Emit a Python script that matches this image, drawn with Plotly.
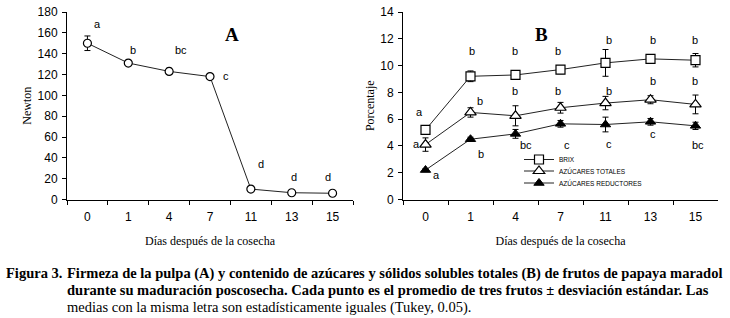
import plotly.graph_objects as go

W, H = 730, 318

dias = ["0", "1", "4", "7", "11", "13", "15"]

# Panel A: firmeza (Newton)
firmeza = [150, 131, 123, 118, 10, 6.5, 6]
firmeza_sd = [7, 2, 3, 2, 1, 1, 1]
letras_a = ["a", "b", "bc", "c", "d", "d", "d"]

# Panel B: porcentaje
brix = [5.2, 9.2, 9.3, 9.7, 10.2, 10.5, 10.4]
brix_sd = [0.2, 0.4, 0.2, 0.3, 1.0, 0.1, 0.5]
totales = [4.1, 6.5, 6.25, 6.85, 7.2, 7.45, 7.1]
totales_sd = [0.5, 0.35, 0.75, 0.4, 0.5, 0.3, 0.7]
reductores = [2.2, 4.5, 4.9, 5.65, 5.6, 5.8, 5.5]
reductores_sd = [0.1, 0.15, 0.33, 0.25, 0.55, 0.25, 0.27]
letras_brix = ["a", "b", "b", "b", "b", "b", "b"]
letras_tot = ["a", "b", "b", "b", "b", "b", "b"]
letras_red = ["a", "b", "bc", "c", "c", "c", "bc"]

SANS = "Liberation Sans, Arial, sans-serif"
SERIF = "Liberation Serif, Times New Roman, serif"
LINE = "#222222"
BLACK = "#000000"

def px_x(p):
    return p / W

def px_y(p):
    return 1 - p / H

fig = go.Figure()

def err(sd):
    return dict(type="data", array=sd, visible=True, color=BLACK, thickness=1, width=3)

fig.add_trace(go.Scatter(
    x=dias, y=firmeza, error_y=err(firmeza_sd), mode="lines+markers",
    line=dict(color=LINE, width=1),
    marker=dict(symbol="circle", size=8, color="white", line=dict(color=BLACK, width=1.2)),
    xaxis="x", yaxis="y", showlegend=False))

fig.add_trace(go.Scatter(
    x=dias, y=brix, error_y=err(brix_sd), mode="lines+markers", name="BRIX",
    line=dict(color=LINE, width=1),
    marker=dict(symbol="square", size=9, color="white", line=dict(color=BLACK, width=1.2)),
    xaxis="x2", yaxis="y2", legend="legend"))
fig.add_trace(go.Scatter(
    x=dias, y=totales, error_y=err(totales_sd), mode="lines+markers", name="AZÚCARES TOTALES",
    line=dict(color=LINE, width=1),
    marker=dict(symbol="triangle-up", size=10, color="white", line=dict(color=BLACK, width=1.2)),
    xaxis="x2", yaxis="y2", legend="legend2"))
fig.add_trace(go.Scatter(
    x=dias, y=reductores, error_y=err(reductores_sd), mode="lines+markers", name="AZÚCARES REDUCTORES",
    line=dict(color=LINE, width=1),
    marker=dict(symbol="triangle-up", size=9, color=BLACK, line=dict(color=BLACK, width=1)),
    xaxis="x2", yaxis="y2", legend="legend3"))

xcommon = dict(type="category", range=[-0.5, 6.5], showline=True, linecolor=BLACK, linewidth=1,
               ticks="outside", tickson="boundaries", ticklen=4, tickcolor=BLACK, automargin=False,
               ticklabelstandoff=6,
               showgrid=False, zeroline=False, tickfont=dict(family=SANS, size=12, color=BLACK),
               title=dict(text="Días después de la cosecha", font=dict(family=SERIF, size=12, color=BLACK),
                          standoff=13))
ycommon = dict(showline=True, linecolor=BLACK, linewidth=1, ticks="outside", ticklen=4,
               tickcolor=BLACK, showgrid=False, zeroline=False, automargin=False,
               ticklabelstandoff=2,
               tickfont=dict(family=SANS, size=12, color=BLACK))

def leg(yc):
    return dict(x=px_x(519), y=px_y(yc), xanchor="left", yanchor="middle",
                font=dict(family=SANS, size=6.5, color=BLACK), bgcolor="rgba(0,0,0,0)",
                itemwidth=30, borderwidth=0)

ydom = [px_y(199.5), px_y(12)]
fig.update_layout(
    width=W, height=H, margin=dict(l=0, r=0, t=0, b=0, pad=0, autoexpand=False),
    paper_bgcolor="white", plot_bgcolor="white",
    xaxis=dict(xcommon, domain=[px_x(67), px_x(353)], anchor="y"),
    yaxis=dict(ycommon, domain=ydom, anchor="x", range=[0, 180], dtick=20,
               title=dict(text="Newton", font=dict(family=SERIF, size=12, color=BLACK), standoff=3)),
    xaxis2=dict(xcommon, domain=[px_x(403), px_x(718)], anchor="y2"),
    yaxis2=dict(ycommon, domain=ydom, anchor="x2", range=[0, 14], dtick=2,
                title=dict(text="Porcentaje", font=dict(family=SERIF, size=12, color=BLACK), standoff=3)),
    legend=leg(159.5), legend2=leg(171), legend3=leg(183),
    showlegend=True,
)

ann = []
# panel letters
ann.append(dict(text="<b>A</b>", x=px_x(223), y=px_y(22), xref="paper", yref="paper",
                showarrow=False, font=dict(family=SERIF, size=19, color=BLACK)))
ann.append(dict(text="<b>B</b>", x=px_x(550), y=px_y(22), xref="paper", yref="paper",
                showarrow=False, font=dict(family=SERIF, size=19, color=BLACK)))

LFONT = dict(family=SANS, size=11, color=BLACK)

# label placements (y in data units, x shift in px)
pos_a_y = [168, 143.5, 143.5, 119, 34, 21.6, 21.6]
pos_a_dx = [10, 5, 12, 16, 10, 2, -5]
for i, t in enumerate(letras_a):
    ann.append(dict(text=t, x=i, y=pos_a_y[i], xref="x", yref="y", xshift=pos_a_dx[i],
                    showarrow=False, font=LFONT))

pos_brix_y = [6.5, 11.1, 11.1, 11.1, 11.9, 11.9, 11.9]
pos_brix_dx = [-6, 1, -1, -3, 3, 2, -1]
pos_tot_y = [4.15, 7.37, 8.1, 8.1, 8.1, 8.86, 8.86]
pos_tot_dx = [-9, 9, -1, -3, 3, 2, -1]
pos_red_y = [1.84, 3.4, 4.1, 4.1, 4.15, 4.88, 4.1]
pos_red_dx = [11, 10, 10, 6, 3, 2, 2]
for letras, py, pdx in [(letras_brix, pos_brix_y, pos_brix_dx),
                        (letras_tot, pos_tot_y, pos_tot_dx),
                        (letras_red, pos_red_y, pos_red_dx)]:
    for i, t in enumerate(letras):
        ann.append(dict(text=t, x=i, y=py[i], xref="x2", yref="y2", xshift=pdx[i],
                        showarrow=False, font=LFONT))

# caption
CF = dict(family=SERIF, size=14.5, color=BLACK)
ann.append(dict(text="<b>Figura 3.</b>", x=px_x(4), y=px_y(273), xref="paper", yref="paper",
                xanchor="left", yanchor="middle", showarrow=False, font=CF))
ann.append(dict(text="<b>Firmeza de la pulpa (A) y contenido de azúcares y sólidos solubles totales (B) de frutos de papaya maradol</b>",
                x=px_x(65), y=px_y(273), xref="paper", yref="paper",
                xanchor="left", yanchor="middle", showarrow=False, font=CF))
ann.append(dict(text="<b>durante su maduración poscosecha. Cada punto es el promedio de tres frutos ± desviación estándar. Las</b>",
                x=px_x(65), y=px_y(290), xref="paper", yref="paper",
                xanchor="left", yanchor="middle", showarrow=False, font=CF))
ann.append(dict(text="medias con la misma letra son estadísticamente iguales (Tukey, 0.05).",
                x=px_x(65), y=px_y(307), xref="paper", yref="paper",
                xanchor="left", yanchor="middle", showarrow=False, font=CF))

fig.update_layout(annotations=ann)
fig.write_html("out.html", config={"displayModeBar": False},
               post_script="document.body.style.margin='0';document.body.style.overflow='hidden';")
